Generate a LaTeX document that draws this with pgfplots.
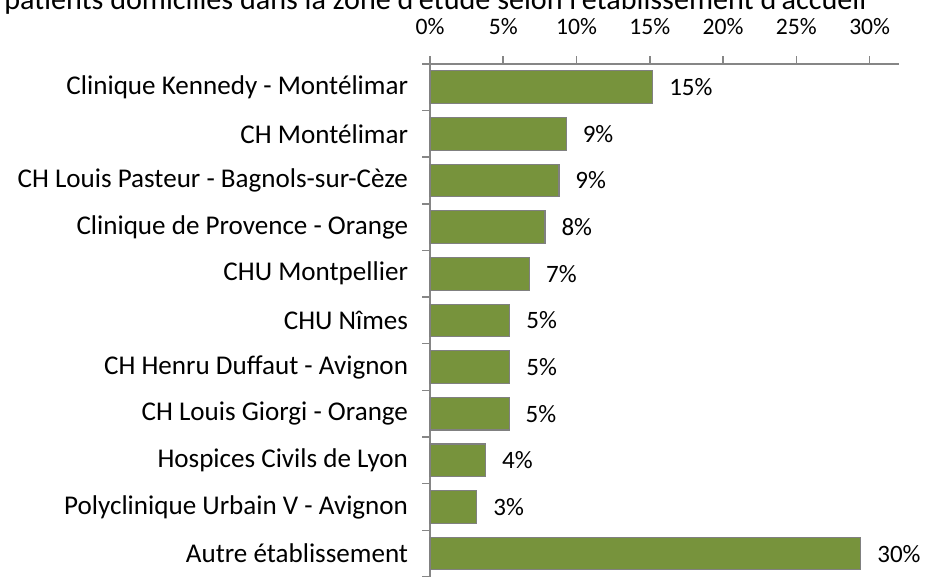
\documentclass[border=0pt]{standalone}
\usepackage{fontspec}
\setmainfont{Carlito}
\usepackage{pgfplots}
\pgfplotsset{compat=1.18}
\usepackage{pgfplotstable}
\definecolor{barfill}{RGB}{119,147,60}
\definecolor{barline}{RGB}{128,128,128}
\definecolor{axisgrey}{RGB}{134,134,134}

% pos = row from the bottom, val = share in %, lab = printed label
\pgfplotstableread{
pos val lab
10 15.2 15
9 9.3 9
8 8.8 9
7 7.85 8
6 6.8 7
5 5.45 5
4 5.45 5
3 5.4 5
2 3.8 4
1 3.2 3
0 29.4 30
}\shares

\begin{document}
\begin{tikzpicture}
\begin{axis}[
    scale only axis,
    width=337.7pt, height=369.4pt,
    xmin=0, xmax=32,
    ymin=-0.5, ymax=10.5,
    axis x line*=top,
    axis y line*=left,
    axis line style={draw=axisgrey, line width=1.4pt},
    tick align=outside,
    xtick={0,5,10,15,20,25,30},
    xticklabels={0\%,5\%,10\%,15\%,20\%,25\%,30\%},
    xtick style={draw=axisgrey, line width=1.1pt},
    major tick length=5.5pt,
    xticklabel style={anchor=base, inner sep=0pt, yshift=15.5pt,
        font=\fontsize{17}{20}\selectfont},
    ytick={0,...,10},
    yticklabels={Autre établissement,
        Polyclinique Urbain V - Avignon,
        Hospices Civils de Lyon,
        CH Louis Giorgi - Orange,
        CH Henru Duffaut - Avignon,
        CHU Nîmes,
        CHU Montpellier,
        Clinique de Provence - Orange,
        CH Louis Pasteur - Bagnols-sur-Cèze,
        CH Montélimar,
        Clinique Kennedy - Montélimar},
    ytick style={draw=none},
    yticklabel style={anchor=east, inner sep=0pt, xshift=-10.1pt,
        font=\fontsize{19.5}{22}\selectfont},
    extra y ticks={-0.5,0.5,1.5,2.5,3.5,4.5,5.5,6.5,7.5,8.5,9.5,10.5},
    extra y tick labels={},
    extra y tick style={ytick style={draw=axisgrey, line width=1.1pt}},
    clip=false,
]
\addplot[xbar, bar width=0.7, fill=barfill, draw=barline, line width=0.8pt,
    point meta=explicit symbolic,
    nodes near coords={\pgfplotspointmeta\%},
    nodes near coords style={anchor=west, inner sep=0pt, xshift=11.5pt,
        font=\fontsize{18}{21}\selectfont}]
    table[x=val, y=pos, meta=lab] {\shares};
\end{axis}
\node[anchor=base west, inner sep=0pt, font=\fontsize{21.7}{25}\selectfont]
    at (-306.7pt, 408.2pt)
    {patients domiciliés dans la zone d'étude selon l'établissement d'accueil};
\pgfresetboundingbox
\useasboundingbox (-309.6pt,0) rectangle (362.2pt,415.4pt);
\end{tikzpicture}
\end{document}
